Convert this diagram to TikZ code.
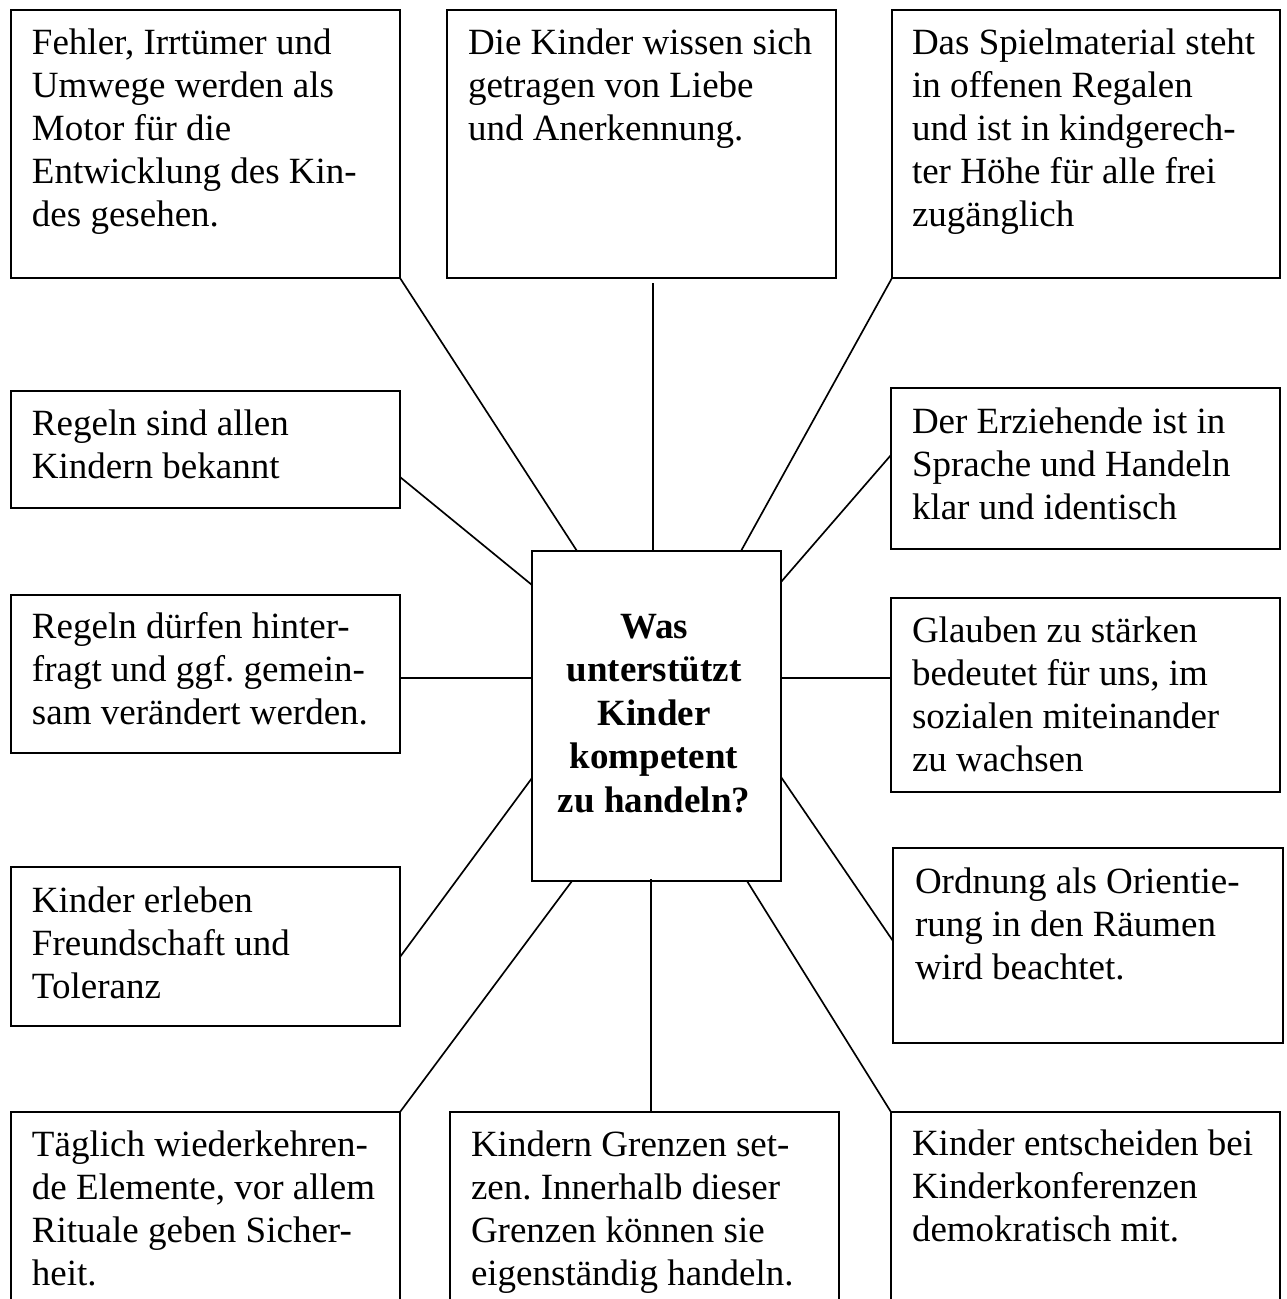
\documentclass[tikz,border=0pt]{standalone}
\usepackage{fontspec}
\setmainfont{Liberation Serif}
\usetikzlibrary{calc}
\frenchspacing
\tikzset{
  box/.style={draw, line width=0.6pt, inner sep=0pt, outer sep=0pt, fill=white},
  txt/.style={anchor=north west, inner sep=0pt, outer sep=0pt, align=left,
    font=\fontsize{11.1pt}{12.9pt}\selectfont\frenchspacing},
  ctxt/.style={anchor=north, inner sep=0pt, outer sep=0pt, align=center,
    font=\fontsize{11.1pt}{13.05pt}\selectfont\bfseries\frenchspacing},
  conn/.style={line width=0.5pt}
}
\newcommand{\fl}{\rule{0pt}{13.2pt}}
\newcommand{\mkbox}[5]{%
  \node[box, minimum width={(#4-#2)*0.3pt}, minimum height={(#5-#3)*0.3pt}]
    (#1) at ({(#2+#4)/2},{(#3+#5)/2}) {};}
\begin{document}
\begin{tikzpicture}[x=0.3pt, y=-0.3pt]
\clip (0,0) rectangle (1287,1299);
\fill[white] (0,0) rectangle (1287,1299);

% boxes
\mkbox{b1}{11}{10}{400}{278}
\mkbox{b2}{447}{10}{836}{278}
\mkbox{b3}{892}{10}{1280}{278}
\mkbox{l1}{11}{391}{400}{508}
\mkbox{l2}{11}{595}{400}{753}
\mkbox{l3}{11}{867}{400}{1026}
\mkbox{r1}{891}{388}{1280}{549}
\mkbox{r2}{891}{598}{1280}{792}
\mkbox{r3}{893}{848}{1283}{1043}
\mkbox{bl}{11}{1112}{400}{1330}
\mkbox{bc}{450}{1112}{839}{1330}
\mkbox{br}{891}{1112}{1280}{1330}
\mkbox{c}{532}{551}{781}{881}

% texts
\node[txt] (t1) at ($(b1.north west)+(21,0)$) {\fl Fehler, Irrtümer und\\Umwege werden als\\Motor für die\\Entwicklung des Kin-\\des gesehen.};
\node[txt] (t2) at ($(b2.north west)+(21,0)$) {\fl Die Kinder wissen sich\\getragen von Liebe\\und Anerkennung.};
\node[txt] (t3) at ($(b3.north west)+(20,0)$) {\fl Das Spielmaterial steht\\in offenen Regalen\\und ist in kindgerech-\\ter Höhe für alle frei\\zugänglich};
\node[txt] (tl1) at ($(l1.north west)+(21,0)$) {\fl Regeln sind allen\\Kindern bekannt};
\node[txt] (tl2) at ($(l2.north west)+(21,-1)$) {\fl Regeln dürfen hinter-\\fragt und ggf. gemein-\\sam verändert werden.};
\node[txt] (tl3) at ($(l3.north west)+(21,1)$) {\fl Kinder erleben\\Freundschaft und\\Toleranz};
\node[txt] (tr1) at ($(r1.north west)+(21,1)$) {\fl Der Erziehende ist in\\Sprache und Handeln\\klar und identisch};
\node[txt] (tr2) at ($(r2.north west)+(21,0)$) {\fl Glauben zu stärken\\bedeutet für uns, im\\sozialen miteinander\\zu wachsen};
\node[txt] (tr3) at ($(r3.north west)+(22,1)$) {\fl Ordnung als Orientie-\\rung in den Räumen\\wird beachtet.};
\node[txt] (tbl) at ($(bl.north west)+(21,0)$) {\fl Täglich wiederkehren-\\de Elemente, vor allem\\Rituale geben Sicher-\\heit.};
\node[txt] (tbc) at ($(bc.north west)+(21,0)$) {\fl Kindern Grenzen set-\\zen. Innerhalb dieser\\Grenzen können sie\\eigenständig handeln.};
\node[txt] (tbr) at ($(br.north west)+(21,-1)$) {\fl Kinder entscheiden bei\\Kinderkonferenzen\\demokratisch mit.};
\node[ctxt] (tc) at ($(c.north west)+(122,43)$) {\fl Was\\unterstützt\\Kinder\\kompetent\\zu handeln?};

% connectors
\draw[conn] (b1.south east) -- ($(c.north west)+(45,0)$);
\coordinate (p2) at ($(b2.south west)+(206,5)$);
\draw[conn] (p2) -- (p2 |- c.north);
\draw[conn] (b3.south west) -- ($(c.north west)+(209,0)$);
\draw[conn] ($(l1.north east)+(0,86)$) -- ($(c.north west)+(0,34)$);
\coordinate (pl2) at ($(l2.north east)+(0,83)$);
\draw[conn] (pl2) -- (pl2 -| c.west);
\draw[conn] ($(r1.north west)+(0,67)$) -- ($(c.north east)+(0,31)$);
\coordinate (pr2) at ($(r2.north west)+(0,80)$);
\draw[conn] (pr2) -- (pr2 -| c.east);
\draw[conn] ($(l3.north east)+(0,90)$) -- ($(c.south west)+(0,-103)$);
\draw[conn] ($(r3.north west)+(0,93)$) -- ($(c.south east)+(0,-104)$);
\draw[conn] (bl.north east) -- ($(c.south west)+(40,0)$);
\coordinate (pbc) at ($(bc.north west)+(201,0)$);
\draw[conn] (pbc) -- ($(pbc |- c.south)+(0,-2)$);
\draw[conn] (br.north west) -- ($(c.south west)+(215,0)$);
\end{tikzpicture}
\end{document}
